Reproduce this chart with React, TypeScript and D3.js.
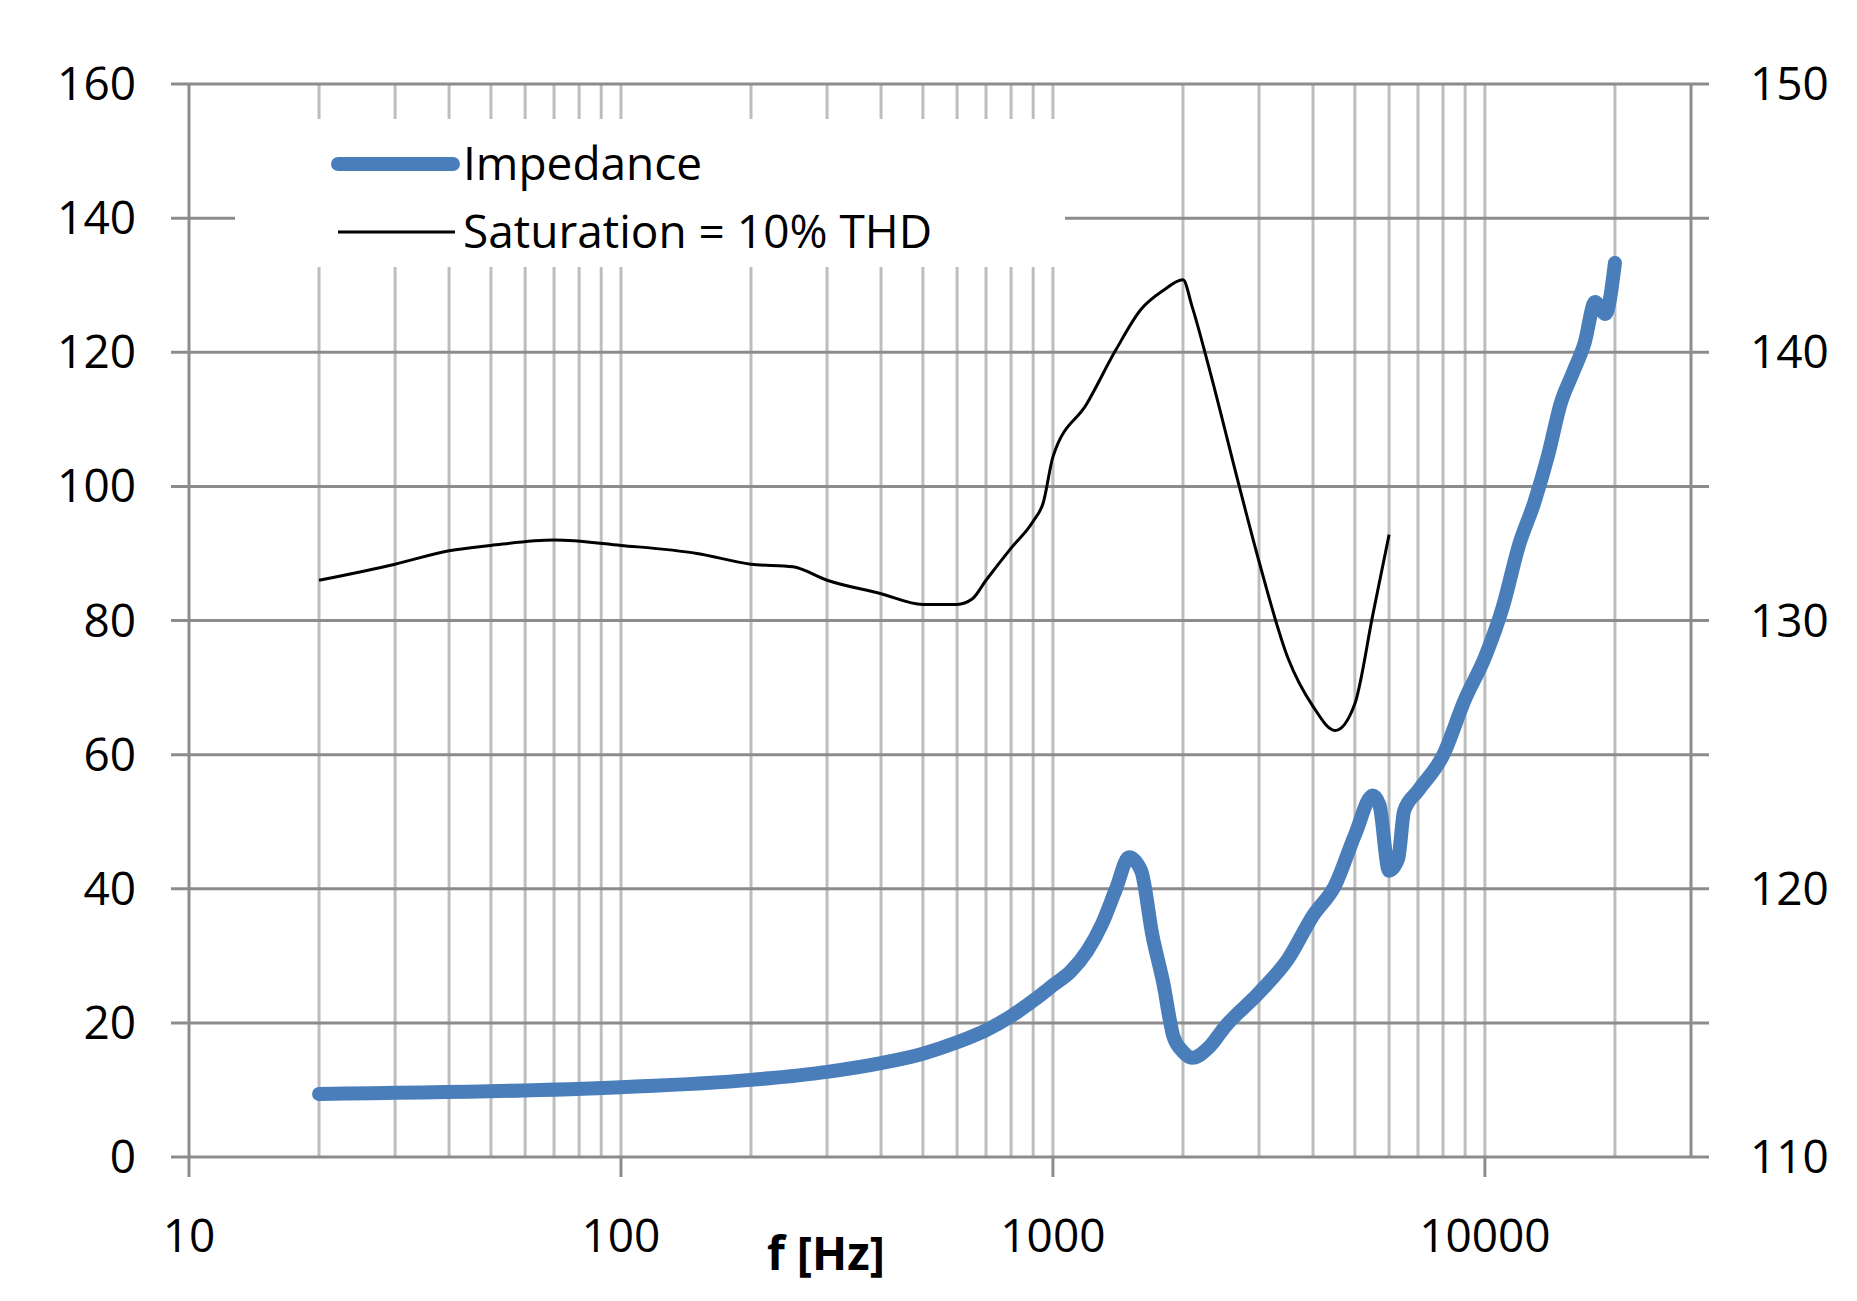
import { useEffect, useRef } from "react"
import * as d3 from "d3"

// Impedance (left axis)
const impFreq = [20, 100, 200, 300, 400, 500, 600, 700, 800, 900, 1000, 1100, 1200, 1300, 1400, 1500, 1600, 1700, 1800, 1900, 2000, 2100, 2300, 2500, 3000, 3500, 4000, 4500, 5000, 5500, 5700, 6000, 6300, 6500, 7000, 8000, 9000, 10000, 11000, 12000, 13000, 14000, 15000, 16000, 17000, 18000, 19000, 20000]
const impValue = [9.4, 10.4, 11.5, 12.7, 14, 15.4, 17.1, 18.9, 21, 23.3, 25.6, 27.7, 30.7, 34.8, 40, 44.7, 42.7, 33, 26, 18, 15.7, 14.8, 16.4, 19.4, 24.5, 29.5, 36, 40.5, 48, 53.9, 52.5, 42.7, 44.5, 51.6, 54.6, 59.9, 68.3, 74.5, 82, 91.3, 97.5, 104.6, 112.5, 117, 121.3, 127.5, 125.7, 133.3]

// Saturation = 10% THD (right axis)
const satFreq = [20, 30, 40, 50, 70, 100, 150, 200, 250, 300, 400, 500, 600, 650, 700, 800, 900, 950, 1000, 1200, 1400, 1600, 1800, 2000, 2100, 2300, 2700, 3000, 3500, 4000, 4500, 5000, 5500, 6000]
const satValue = [131.5, 132.1, 132.6, 132.8, 133.0, 132.8, 132.5, 132.1, 132.0, 131.5, 131.0, 130.6, 130.6, 130.8, 131.5, 132.7, 133.7, 134.4, 136.1, 138.1, 140.1, 141.6, 142.3, 142.7, 141.7, 139.4, 135.0, 132.2, 128.6, 126.8, 125.9, 126.9, 130.2, 133.2]

const leftTicks = [0, 20, 40, 60, 80, 100, 120, 140, 160]
const rightTicks = [110, 120, 130, 140, 150]
const decades = [10, 100, 1000, 10000]

export default function App() {
  const ref = useRef<SVGSVGElement>(null)

  useEffect(() => {
    if (!ref.current) return
    const svg = d3.select(ref.current)
    svg.selectAll("*").remove()

    const L = 189, R = 1691, T = 84, B = 1157
    const font = "Open Sans, Liberation Sans, sans-serif"
    const x = d3.scaleLog().domain([10, 30000]).range([L, R])
    const y = d3.scaleLinear().domain([0, 160]).range([B, T])
    const y2 = d3.scaleLinear().domain([110, 150]).range([B, T])

    // vertical grid (every 1-9 per decade)
    const minor: number[] = []
    for (const d of [10, 100, 1000, 10000]) for (let k = 1; k <= 9; k++) if (d * k > 10 && d * k < 30000) minor.push(d * k)
    svg.append("g").selectAll("line").data(minor).join("line")
      .attr("x1", (d) => x(d)).attr("x2", (d) => x(d)).attr("y1", T).attr("y2", B)
      .attr("stroke", "#bdbdbd").attr("stroke-width", 3)

    // horizontal grid
    svg.append("g").selectAll("line").data(leftTicks).join("line")
      .attr("x1", L - 18).attr("x2", R + 18).attr("y1", (d) => y(d)).attr("y2", (d) => y(d))
      .attr("stroke", "#8c8c8c").attr("stroke-width", 3)

    // axes lines
    svg.append("line").attr("x1", L).attr("x2", L).attr("y1", T).attr("y2", B + 20).attr("stroke", "#8c8c8c").attr("stroke-width", 3)
    svg.append("line").attr("x1", R).attr("x2", R).attr("y1", T).attr("y2", B).attr("stroke", "#8c8c8c").attr("stroke-width", 3)
    svg.append("g").selectAll("line").data(decades.slice(1)).join("line")
      .attr("x1", (d) => x(d)).attr("x2", (d) => x(d)).attr("y1", B).attr("y2", B + 20)
      .attr("stroke", "#8c8c8c").attr("stroke-width", 3)

    // legend background
    svg.append("rect").attr("x", 235).attr("y", 119).attr("width", 830).attr("height", 148).attr("fill", "white")

    // tick labels
    svg.append("g").selectAll("text").data(leftTicks).join("text")
      .attr("x", 136).attr("y", (d) => y(d)).attr("dy", "0.35em").attr("text-anchor", "end")
      .attr("font-family", font).attr("font-size", 46).text((d) => d)
    svg.append("g").selectAll("text").data(rightTicks).join("text")
      .attr("x", 1750).attr("y", (d) => y2(d)).attr("dy", "0.35em").attr("text-anchor", "start")
      .attr("font-family", font).attr("font-size", 46).text((d) => d)
    svg.append("g").selectAll("text").data(decades).join("text")
      .attr("x", (d) => x(d)).attr("y", 1252).attr("text-anchor", "middle")
      .attr("font-family", font).attr("font-size", 46).text((d) => d)
    svg.append("text").attr("x", 826).attr("y", 1270).attr("text-anchor", "middle")
      .attr("font-family", font).attr("font-size", 46).attr("font-weight", "bold").text("f [Hz]")

    // lines
    const impLine = d3.line<number>().x((_, i) => x(impFreq[i])).y((d) => y(d)).curve(d3.curveMonotoneX)
    svg.append("path").attr("d", impLine(impValue)).attr("fill", "none")
      .attr("stroke", "#4a7ebb").attr("stroke-width", 14).attr("stroke-linecap", "round").attr("stroke-linejoin", "round")
    const satLine = d3.line<number>().x((_, i) => x(satFreq[i])).y((d) => y2(d)).curve(d3.curveMonotoneX)
    svg.append("path").attr("d", satLine(satValue)).attr("fill", "none")
      .attr("stroke", "black").attr("stroke-width", 3)

    // legend
    svg.append("line").attr("x1", 338).attr("x2", 453).attr("y1", 164).attr("y2", 164)
      .attr("stroke", "#4a7ebb").attr("stroke-width", 14).attr("stroke-linecap", "round")
    svg.append("text").attr("x", 463).attr("y", 164).attr("dy", "0.35em")
      .attr("font-family", font).attr("font-size", 46).text("Impedance")
    svg.append("line").attr("x1", 338).attr("x2", 455).attr("y1", 232).attr("y2", 232)
      .attr("stroke", "black").attr("stroke-width", 3)
    svg.append("text").attr("x", 463).attr("y", 232).attr("dy", "0.35em")
      .attr("font-family", font).attr("font-size", 46).text("Saturation = 10% THD")
  }, [])

  return <svg ref={ref} width={1857} height={1301} style={{ position: "absolute", left: 0, top: 0, background: "white" }} />
}
